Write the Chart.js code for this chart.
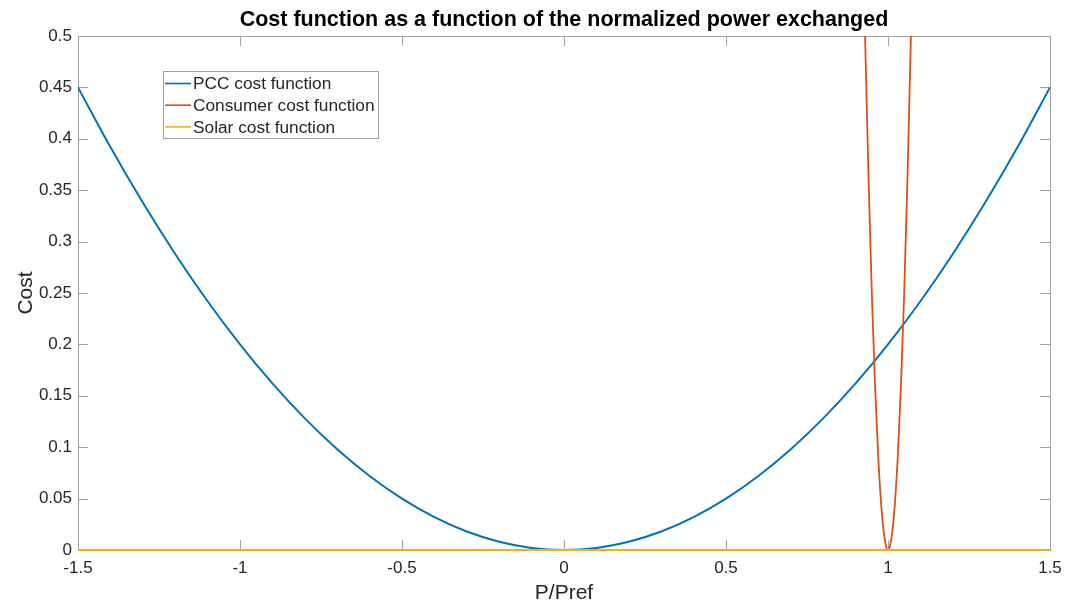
<!DOCTYPE html>
<html>
<head>
<meta charset="utf-8">
<title>Cost function</title>
<script src="https://cdn.jsdelivr.net/npm/chart.js@4/dist/chart.umd.min.js"></script>
<style>
	body { margin: 0; background: #fff; }
	canvas { display: block; }
</style>
</head>
<body>
<canvas id="costChart" width="1078" height="606"></canvas>
<script>
// dati
var pccX = [-1.5, -1.4, -1.3, -1.2, -1.1, -1.0, -0.9, -0.8, -0.7, -0.6, -0.5, -0.4, -0.3, -0.2, -0.1, 0,
	0.1, 0.2, 0.3, 0.4, 0.5, 0.6, 0.7, 0.8, 0.9, 1.0, 1.1, 1.2, 1.3, 1.4, 1.5];
var pccCost = [0.45, 0.392, 0.338, 0.288, 0.242, 0.2, 0.162, 0.128, 0.098, 0.072, 0.05, 0.032, 0.018, 0.008, 0.002, 0,
	0.002, 0.008, 0.018, 0.032, 0.05, 0.072, 0.098, 0.128, 0.162, 0.2, 0.242, 0.288, 0.338, 0.392, 0.45];

var consumerX = [0.92, 0.93, 0.94, 0.95, 0.96, 0.97, 0.98, 0.99, 0.995, 1.0, 1.005, 1.01, 1.02, 1.03, 1.04, 1.05, 1.06, 1.07, 1.08];
var consumerCost = [0.64, 0.49, 0.36, 0.25, 0.16, 0.09, 0.04, 0.01, 0.0025, 0, 0.0025, 0.01, 0.04, 0.09, 0.16, 0.25, 0.36, 0.49, 0.64];

var solarX = [-1.5, 0, 1.5];
var solarCost = [0, 0, 0];

var xTicks = [-1.5, -1, -0.5, 0, 0.5, 1, 1.5];
var yTicks = [0, 0.05, 0.1, 0.15, 0.2, 0.25, 0.3, 0.35, 0.4, 0.45, 0.5];

var seriesNames = ["PCC cost function", "Consumer cost function", "Solar cost function"];
var seriesColors = ["#0072BD", "#D95319", "#EDB120"];

var fontFamily = "'Liberation Sans', Arial, Helvetica, sans-serif";
var axisGray = "#a0a0a0";
var textColor = "#262626";

function toPoints(xs, ys) {
	return xs.map(function(x, i) { return {x: x, y: ys[i]}; });
}

// box e tacche interne stile matlab
var boxPlugin = {
	id: "matlabBox",
	beforeDatasetsDraw: function(chart) {
		var ctx = chart.ctx;
		var a = chart.chartArea;
		var xs = chart.scales.x;
		var ys = chart.scales.y;
		var tl = 10;
		ctx.save();
		ctx.strokeStyle = axisGray;
		ctx.lineWidth = 1;
		ctx.strokeRect(Math.round(a.left) + 0.5, Math.round(a.top) + 0.5,
			Math.round(a.right - a.left), Math.round(a.bottom - a.top));
		ctx.beginPath();
		xTicks.forEach(function(v) {
			var px = Math.round(xs.getPixelForValue(v)) + 0.5;
			ctx.moveTo(px, a.bottom); ctx.lineTo(px, a.bottom - tl);
			ctx.moveTo(px, a.top); ctx.lineTo(px, a.top + tl);
		});
		yTicks.forEach(function(v) {
			var py = Math.round(ys.getPixelForValue(v)) + 0.5;
			ctx.moveTo(a.left, py); ctx.lineTo(a.left + tl, py);
			ctx.moveTo(a.right, py); ctx.lineTo(a.right - tl, py);
		});
		ctx.stroke();
		ctx.restore();
	},
	afterDraw: function(chart) {
		// legenda dentro l'area del grafico
		var ctx = chart.ctx;
		var x0 = 163, y0 = 71, w = 215, h = 67;
		ctx.save();
		ctx.fillStyle = "#fff";
		ctx.fillRect(x0, y0, w, h);
		ctx.strokeStyle = axisGray;
		ctx.lineWidth = 1;
		ctx.strokeRect(x0 + 0.5, y0 + 0.5, w, h);
		ctx.font = "17.3px " + fontFamily;
		ctx.textBaseline = "middle";
		ctx.fillStyle = textColor;
		chart.data.datasets.forEach(function(ds, i) {
			var cy = y0 + 12.5 + i * 21.7;
			ctx.strokeStyle = ds.borderColor;
			ctx.lineWidth = 1.6;
			ctx.beginPath();
			ctx.moveTo(x0 + 2, cy);
			ctx.lineTo(x0 + 28, cy);
			ctx.stroke();
			ctx.fillText(ds.label, x0 + 30, cy + 1);
		});
		ctx.restore();
	}
};

var ctx = document.getElementById("costChart").getContext("2d");
var chart = new Chart(ctx, {
	type: "line",
	data: {
		datasets: [
			{
				label: seriesNames[0],
				data: toPoints(pccX, pccCost),
				borderColor: seriesColors[0],
				borderWidth: 2,
				pointRadius: 0,
				cubicInterpolationMode: "monotone",
				order: 2
			},
			{
				label: seriesNames[1],
				data: toPoints(consumerX, consumerCost),
				borderColor: seriesColors[1],
				borderWidth: 1.8,
				pointRadius: 0,
				cubicInterpolationMode: "monotone",
				order: 1
			},
			{
				label: seriesNames[2],
				data: toPoints(solarX, solarCost),
				borderColor: seriesColors[2],
				borderWidth: 2,
				pointRadius: 0,
				clip: 4,
				order: 0
			}
		]
	},
	options: {
		responsive: false,
		animation: false,
		layout: { padding: { left: 0, right: 28, top: 0, bottom: 0 } },
		plugins: {
			legend: { display: false },
			tooltip: { enabled: false },
			title: {
				display: true,
				fullSize: false,
				text: "Cost function as a function of the normalized power exchanged",
				color: "#000",
				font: { family: fontFamily, size: 21.5, weight: "bold", lineHeight: 1.2 },
				padding: { top: 7.5, bottom: 2.7 }
			}
		},
		scales: {
			x: {
				type: "linear",
				min: -1.5,
				max: 1.5,
				afterBuildTicks: function(scale) {
					scale.ticks = xTicks.map(function(v) { return {value: v}; });
				},
				afterFit: function(scale) { scale.height = 56; },
				grid: { display: false, drawTicks: false },
				border: { display: false },
				ticks: {
					color: textColor,
					padding: 8,
					maxRotation: 0,
					font: { family: fontFamily, size: 17 },
					callback: function(v) { return String(v); }
				},
				title: {
					display: true,
					text: "P/Pref",
					color: textColor,
					font: { family: fontFamily, size: 21 },
					padding: { top: 0, bottom: 0 }
				}
			},
			y: {
				min: 0,
				max: 0.5,
				afterBuildTicks: function(scale) {
					scale.ticks = yTicks.map(function(v) { return {value: v}; });
				},
				afterFit: function(scale) { scale.width = 78; },
				grid: { display: false, drawTicks: false },
				border: { display: false },
				ticks: {
					color: textColor,
					padding: 6,
					font: { family: fontFamily, size: 17 },
					callback: function(v) { return String(v); }
				},
				title: {
					display: true,
					text: "Cost",
					color: textColor,
					font: { family: fontFamily, size: 21 },
					padding: { top: 14, bottom: 0 }
				}
			}
		}
	},
	plugins: [boxPlugin]
});
</script>
</body>
</html>
